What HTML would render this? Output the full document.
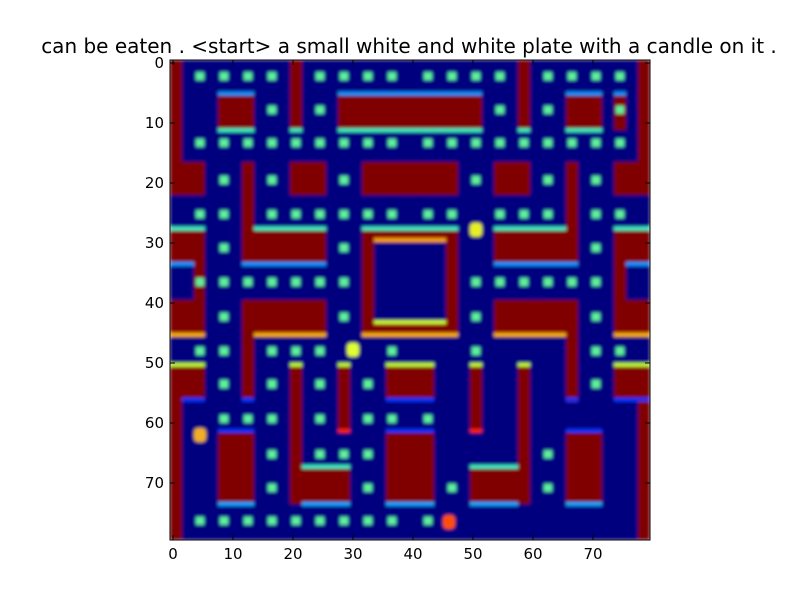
<!DOCTYPE html>
<html><head><meta charset="utf-8"><style>
body{margin:0;background:#fff;width:800px;height:600px;overflow:hidden;font-family:"DejaVu Sans","Liberation Sans",sans-serif}
</style></head><body>
<svg id="chart" width="800" height="600" xmlns="http://www.w3.org/2000/svg">
<defs><filter id="blur" x="0" y="0" width="1" height="1"><feGaussianBlur stdDeviation="1.6"/></filter>
<clipPath id="clip"><rect x="170" y="60" width="480" height="480"/></clipPath></defs>
<text x="409" y="53" text-anchor="middle" font-size="20" font-family="DejaVu Sans, sans-serif">can be eaten . &lt;start&gt; a small white and white plate with a candle on it .</text>
<g id="img" clip-path="url(#clip)"><g id="marks" filter="url(#blur)"></g></g>
<g id="axes" font-family="DejaVu Sans, sans-serif"></g>
</svg>
<script>
// data units (0..80 grid)
const walls = [[0,0,2,17.5],[78,0,80,17.5],[20,0,22,11.7],[58,0,60,11.7],[8,5.8,14,11.7],[28,5.8,52,11.7],[66,5.8,72,11.7],[74,5.8,76,11.7],
[0,17,5.8,22.5],[12,17,14,34],[12,28.3,26,34],[20,17,26,22.5],[32,17,48,22.5],[54,17,60,22.5],[66,17,68,34],[54,28.3,68,34],[74,17,80,22.5],
[0,28.3,5.8,34],[4,34,5.8,40],[0,40,5.8,45.8],[12,40,26,45.8],[12,45.8,14,56.5],[32,28.3,48,45.8],[54,40,68,45.8],[66,45,68,57],
[74,28.3,80,34],[74,34,76,40],[74,40,80,45.8],[0,51,5.8,56.5],[0,51,2,80],[20,51,22,70],[20,68,30,74],[28,51,30,62],[36,51,44,56.5],[36,62,44,74],
[50,51,52,62],[58,51,60,74],[50,68,60,74],[74,51,80,56.5],[78,56.5,80,80],[8,62,14,74],[66,62,72,74]];
const holes = [[34,30,46,43.7]];
const edges = [[8,14,5.6,"#1090ff"],[28,52,5.6,"#1090ff"],[66,72,5.6,"#1090ff"],[74,76,5.6,"#1090ff"],[8,14,11.7,"#40f0c0"],[28,52,11.7,"#40f0c0"],[20,22,11.7,"#40f0c0"],[58,60,11.7,"#40f0c0"],[66,72,11.7,"#40f0c0"],
[0,5.8,28.1,"#40f0c0"],[14,26,28.1,"#40f0c0"],[32,48,28.1,"#40f0c0"],[54,66,28.1,"#40f0c0"],[74,80,28.1,"#40f0c0"],[34,46,30,"#ffa000"],
[0,4,34,"#1090ff"],[12,26,34,"#1090ff"],[54,68,34,"#1090ff"],[76,80,34,"#1090ff"],[34,46,43.7,"#d0ff30"],
[0,5.8,45.8,"#ffb000"],[14,26,45.8,"#ffb000"],[32,48,45.8,"#ffb000"],[54,66,45.8,"#ffb000"],[74,80,45.8,"#ffb000"],
[0,5.8,50.8,"#c0ff30"],[20,22,50.8,"#c0ff30"],[28,30,50.8,"#c0ff30"],[36,44,50.8,"#c0ff30"],[50,52,50.8,"#c0ff30"],[58,60,50.8,"#c0ff30"],[74,80,50.8,"#c0ff30"],
[2,5.8,56.6,"#0030ff"],[12,14,56.6,"#0030ff"],[36,44,56.6,"#0030ff"],[66,68,56.6,"#0030ff"],[74,80,56.6,"#0030ff"],
[8,14,61.8,"#0030ff"],[36,44,61.8,"#0030ff"],[66,72,61.8,"#0030ff"],[28,30,61.8,"#ff2000"],[50,52,61.8,"#ff2000"],
[22,30,67.8,"#40f0c0"],[50,58,67.8,"#40f0c0"],[8,14,74,"#10a0ff"],[22,30,74,"#10a0ff"],[36,44,74,"#10a0ff"],[50,58,74,"#10a0ff"],[66,72,74,"#10a0ff"]];
const dotRows = [2.7,8.3,13.8,20,25.7,31.3,37,42.8,48.5,54,59.8,65.7,71.3,76.8];
const dotCols = [[5,9,13,17,25,29,33,37,43,47,51,55,63,67,71,75],[17,25,55,63,75],[5,9,13,17,21,25,29,33,37,43,47,51,55,59,63,67,71,75],[9,17,29,51,63,71],
[5,9,17,21,25,29,33,37,43,47,55,59,63,71,75],[9,29,71],[5,9,13,17,21,25,29,51,55,59,63,67,71],[9,29,51,71],[5,9,17,21,25,37,51,71,75],
[9,17,25,33,71],[9,13,17,25,33,37,43],[17,25,29,33,63],[17,33,47,63],[5,9,13,17,21,25,29,33,37,43]];
const sprites = [[51,28.3,"#e8f020"],[30.5,48.3,"#e0ff30"],[5,62.5,"#f0b020"],[46.5,77,"#ff5000"]];
const xTicks=[0,10,20,30,40,50,60,70], yTicks=[0,10,20,30,40,50,60,70];
const X0=170,Y0=60,S=6;
const sx=u=>X0+u*S, sy=u=>Y0+u*S;
const NS="http://www.w3.org/2000/svg";
const g=document.getElementById('marks'), ax=document.getElementById('axes');
function mk(tag,attrs,parent){const e=document.createElementNS(NS,tag);for(const k in attrs)e.setAttribute(k,attrs[k]);parent.appendChild(e);return e;}
const bg=mk('rect',{x:X0,y:Y0,width:480,height:480,fill:'#00007f'},g);


walls.forEach(w=>{const r=mk('rect',{x:sx(w[0]),y:sy(w[1]),width:(w[2]-w[0])*S,height:(w[3]-w[1])*S,fill:'#800000'},g);

});
holes.forEach(w=>{const r=mk('rect',{x:sx(w[0]),y:sy(w[1]),width:(w[2]-w[0])*S,height:(w[3]-w[1])*S,fill:'#00007f'},g);

});
edges.forEach(e=>{const r=mk('rect',{x:sx(e[0]),y:sy(e[2])-2,width:(e[1]-e[0])*S,height:4,fill:e[3]},g);

});
dotRows.forEach((row,i)=>dotCols[i].forEach(c=>{const r=mk('rect',{x:sx(c)-4,y:sy(row)-4,width:8,height:8,fill:'#5ef29c'},g);

}));
sprites.forEach(s=>{const r=mk('rect',{x:sx(s[0])-6,y:sy(s[1])-7,width:12,height:14,rx:4,fill:s[2]},g);

});
const frame=mk('rect',{x:X0,y:Y0,width:480,height:480,fill:'none',stroke:'#000','stroke-width':1},ax);


xTicks.forEach(t=>{const p=sx(t+0.5);
mk('line',{x1:p,x2:p,y1:Y0,y2:Y0+5,stroke:'#000'},ax);mk('line',{x1:p,x2:p,y1:Y0+480,y2:Y0+475,stroke:'#000'},ax);
const tx=mk('text',{x:p,y:559,'text-anchor':'middle','font-size':15},ax);tx.textContent=t;

});
yTicks.forEach(t=>{const p=sy(t+0.5);
mk('line',{x1:X0,x2:X0+5,y1:p,y2:p,stroke:'#000'},ax);mk('line',{x1:X0+480,x2:X0+475,y1:p,y2:p,stroke:'#000'},ax);
const tx=mk('text',{x:164,y:p+5,'text-anchor':'end','font-size':15},ax);tx.textContent=t;

});
</script>
</body></html>
